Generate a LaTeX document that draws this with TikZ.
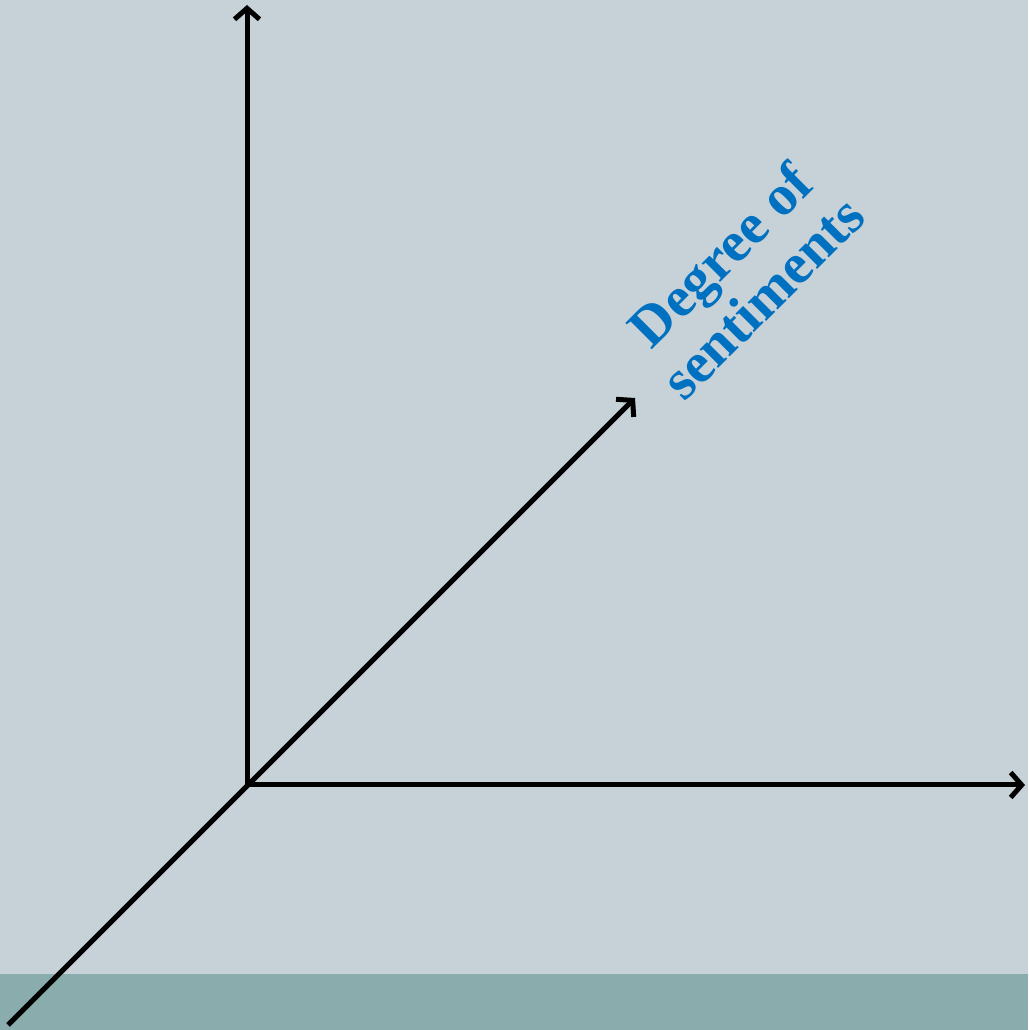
\documentclass[tikz,border=0pt]{standalone}
\usepackage{fontspec}
\setmainfont{Liberation Serif}
\usetikzlibrary{arrows.meta}
\definecolor{bgc}{HTML}{C6D1D8}
\definecolor{stripc}{HTML}{8BACAD}
\definecolor{lblc}{HTML}{0070C0}
\begin{document}
\begin{tikzpicture}[x=1pt,y=1pt,
  axis/.style={line width=5pt, -{Straight Barb[length=11pt,width=25pt,line width=5pt]}},
  lbl/.style={font=\bfseries\fontsize{57}{60}\selectfont, text=lblc, align=center, rotate=45, inner sep=0pt}]
\fill[bgc] (0,0) rectangle (1028,1030);
\fill[stripc] (0,0) rectangle (1028,56);
\useasboundingbox (0,0) rectangle (1028,1030);
\coordinate (O) at (247,245);
\coordinate (Ytop) at (247,1025);
\coordinate (Xend) at (1025,245);
\coordinate (Dlow) at (8,5);
\coordinate (Dup) at (635,632);
\draw[axis] (O) -- (Ytop);
\draw[axis] (O) -- (Xend);
\draw[axis] (Dlow) -- (Dup);
\node[lbl] (lab) at (741,754) {Degree of\\sentiments};
\end{tikzpicture}
\end{document}
